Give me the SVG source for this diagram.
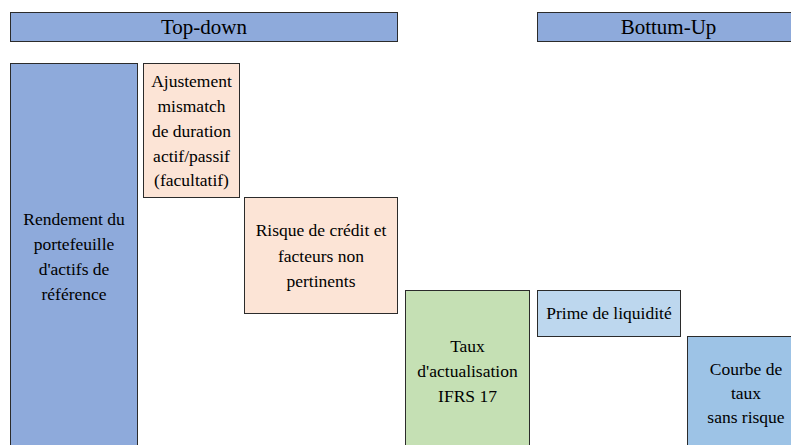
<svg xmlns="http://www.w3.org/2000/svg" width="791" height="445" viewBox="0 0 791 445">
  <defs>
    <!-- shared box outline colour -->
    <linearGradient id="unused-none"/>
  </defs>

  <!-- section headers -->
  <g id="header-top-down">
    <rect x="10.5" y="12.5" width="387" height="29" fill="#8eaadb" stroke="#2b2b2b"/>
    <text x="204" y="34" font-family="Liberation Serif" font-size="21" text-anchor="middle">Top-down</text>
  </g>
  <g id="header-bottom-up">
    <rect x="537.5" y="12.5" width="270" height="29" fill="#8eaadb" stroke="#2b2b2b"/>
    <text x="668.5" y="34" font-family="Liberation Serif" font-size="21" text-anchor="middle">Bottum-Up</text>
  </g>

  <!-- waterfall blocks -->
  <g id="node-rendement">
    <rect x="10.5" y="63.5" width="127" height="400" fill="#8eaadb" stroke="#2b2b2b"/>
    <text x="74" y="225" font-family="Liberation Serif" font-size="17.5" text-anchor="middle">Rendement du</text>
    <text x="74" y="250" font-family="Liberation Serif" font-size="17.5" text-anchor="middle">portefeuille</text>
    <text x="74" y="275" font-family="Liberation Serif" font-size="17.5" text-anchor="middle">d'actifs de</text>
    <text x="74" y="300" font-family="Liberation Serif" font-size="17.5" text-anchor="middle">référence</text>
  </g>
  <g id="node-ajustement">
    <rect x="143.5" y="63.5" width="96" height="134" fill="#fce4d6" stroke="#2b2b2b"/>
    <text x="191.5" y="87" font-family="Liberation Serif" font-size="17.5" text-anchor="middle">Ajustement</text>
    <text x="191.5" y="112" font-family="Liberation Serif" font-size="17.5" text-anchor="middle">mismatch</text>
    <text x="191.5" y="137" font-family="Liberation Serif" font-size="17.5" text-anchor="middle">de duration</text>
    <text x="191.5" y="162" font-family="Liberation Serif" font-size="17.5" text-anchor="middle">actif/passif</text>
    <text x="191.5" y="186" font-family="Liberation Serif" font-size="17.5" text-anchor="middle">(facultatif)</text>
  </g>
  <g id="node-risque">
    <rect x="244.5" y="197.5" width="153" height="116" fill="#fce4d6" stroke="#2b2b2b"/>
    <text x="321" y="236" font-family="Liberation Serif" font-size="17.5" text-anchor="middle">Risque de crédit et</text>
    <text x="321" y="261.5" font-family="Liberation Serif" font-size="17.5" text-anchor="middle">facteurs non</text>
    <text x="321" y="286.5" font-family="Liberation Serif" font-size="17.5" text-anchor="middle">pertinents</text>
  </g>
  <g id="node-taux">
    <rect x="405.5" y="290.5" width="124" height="170" fill="#c5e0b4" stroke="#2b2b2b"/>
    <text x="467.5" y="351.5" font-family="Liberation Serif" font-size="17.5" text-anchor="middle">Taux</text>
    <text x="467.5" y="376.5" font-family="Liberation Serif" font-size="17.5" text-anchor="middle">d'actualisation</text>
    <text x="467.5" y="401.5" font-family="Liberation Serif" font-size="17.5" text-anchor="middle">IFRS 17</text>
  </g>
  <g id="node-prime">
    <rect x="537.5" y="290.5" width="143" height="46" fill="#bdd7ee" stroke="#2b2b2b"/>
    <text x="609" y="319" font-family="Liberation Serif" font-size="17.5" text-anchor="middle">Prime de liquidité</text>
  </g>
  <g id="node-courbe">
    <rect x="687.5" y="336.5" width="118" height="130" fill="#9dc3e6" stroke="#2b2b2b"/>
    <text x="746" y="375" font-family="Liberation Serif" font-size="17.5" text-anchor="middle">Courbe de</text>
    <text x="746" y="398.5" font-family="Liberation Serif" font-size="17.5" text-anchor="middle">taux</text>
    <text x="746" y="423" font-family="Liberation Serif" font-size="17.5" text-anchor="middle">sans risque</text>
  </g>

  <g id="connectors"/>
</svg>
